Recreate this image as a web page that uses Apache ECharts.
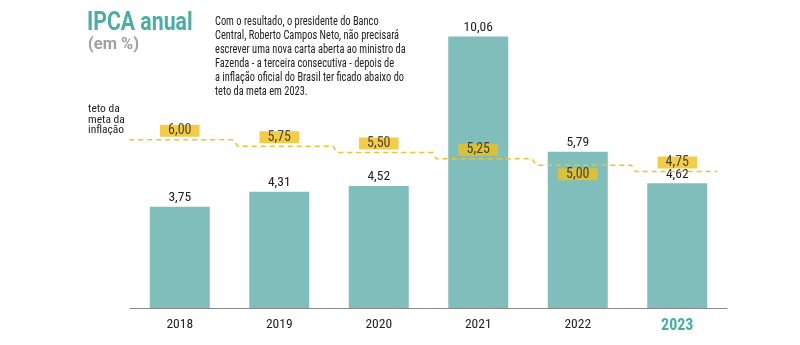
<!DOCTYPE html>
<html><head><meta charset="utf-8">
<script src="https://cdn.jsdelivr.net/npm/echarts@6/dist/echarts.min.js"></script>
<style>html,body{margin:0;padding:0;background:#fff}#c{width:800px;height:345px}</style>
</head><body><div id="c"></div>
<script>
const years = ['2018','2019','2020','2021','2022','2023'];
const ipca = [3.75, 4.31, 4.52, 10.06, 5.79, 4.62];
const teto = [6.00, 5.75, 5.50, 5.25, 5.00, 4.75];
const tetoLabelBelow = [false, false, false, false, true, false];

const NARROW = "'Liberation Sans Narrow','Roboto Condensed',Roboto,sans-serif";
const fmt = v => v.toFixed(2).replace('.', ',');

// step line points built from the ceiling values
const linePts = [];
linePts.push([-0.96, teto[0]]);
teto.forEach((v, i) => {
  if (i > 0) linePts.push([i - 1 + 0.58, v]);
  if (i < teto.length - 1) linePts.push([i + 0.54, v]);
});
linePts.push([5.4, teto[teto.length - 1]]);

const chart = echarts.init(document.getElementById('c'));
chart.setOption({
  animation: false,
  backgroundColor: '#fff',
  grid: { left: 130, right: 73, top: 11, bottom: 37 },
  xAxis: [
    { type: 'category', data: years, boundaryGap: true,
      axisLine: { lineStyle: { color: '#8a8a8a', width: 1 } },
      axisTick: { show: false },
      axisLabel: { margin: 10, fontFamily: NARROW, fontSize: 13.5, color: '#222',
        formatter: (v) => v === '2023' ? '{h|' + v + '}' : v,
        rich: { h: { fontFamily: NARROW, fontSize: 16, fontWeight: 'bold', color: '#4aaea5' } } } },
    { type: 'value', min: -0.5, max: 5.5, show: false }
  ],
  yAxis: [
    { type: 'value', min: 0, max: 11, show: false, splitLine: { show: false } },
    { type: 'value', min: -0.62, max: 11.07, show: false, splitLine: { show: false } }
  ],
  series: [
    { type: 'bar', data: ipca, barWidth: 60, itemStyle: { color: '#80bebb' },
      xAxisIndex: 0, yAxisIndex: 0,
      label: { show: true, position: 'top', distance: 2, fontFamily: NARROW, fontSize: 13.5, color: '#222',
        formatter: p => fmt(p.value) } },
    { type: 'line', data: linePts, xAxisIndex: 1, yAxisIndex: 1, symbol: 'none', z: 3,
      lineStyle: { color: '#f0c232', width: 1.5, type: [5, 4] } },
    { type: 'scatter', xAxisIndex: 1, yAxisIndex: 1, symbolSize: 0, z: 4,
      data: teto.map((v, i) => ({ value: [i, v],
        label: { position: tetoLabelBelow[i] ? 'bottom' : 'top' } })),
      label: { show: true, distance: 3, fontFamily: NARROW, fontSize: 14, color: '#222',
        backgroundColor: '#f0c01c', padding: [0, 8, 0, 8], lineHeight: 12, height: 12,
        formatter: p => fmt(p.value[1]) } }
  ],
  graphic: [
    { type: 'group', x: 87, y: 11, scaleX: 0.85, children: [
      { type: 'text', style: { text: 'IPCA anual', font: 'bold 25px Roboto, sans-serif', fill: '#4aaea5', verticalAlign: 'top' } } ] },
    { type: 'text', x: 88, y: 36, style: { text: '(em %)', font: 'bold 16.5px Roboto, sans-serif', fill: '#a0a0a0', verticalAlign: 'top' } },
    { type: 'group', x: 215, y: 15, scaleX: 0.8, children: [
      { type: 'text', style: {
        text: 'Com o resultado, o presidente do Banco\nCentral, Roberto Campos Neto, não precisará\nescrever uma nova carta aberta ao ministro da\nFazenda - a terceira consecutiva - depois de\na inflação oficial do Brasil ter ficado abaixo do\nteto da meta em 2023.',
        fontFamily: NARROW, fontSize: 13, lineHeight: 14, fill: '#222', verticalAlign: 'top' } } ] },
    { type: 'text', x: 88, y: 104, style: {
        text: 'teto da\nmeta da\ninflação', fontFamily: NARROW, fontSize: 11.5, lineHeight: 10.5, fill: '#222', verticalAlign: 'top' } }
  ]
});
</script></body></html>
